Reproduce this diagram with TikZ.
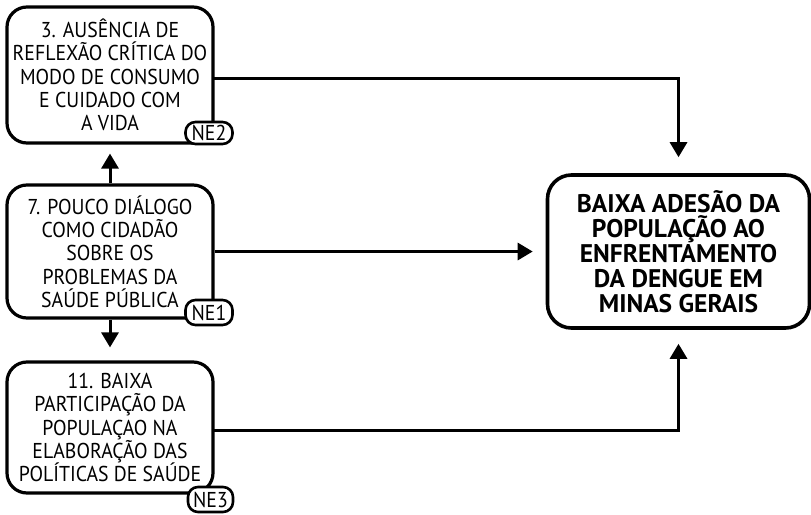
\documentclass[tikz,border=0pt]{standalone}
\usepackage{fontspec}
\setmainfont{PT Sans}
\newfontfamily\narrowfont[FakeStretch=0.92]{PT Sans}
\usetikzlibrary{arrows.meta}
\begin{document}
\begin{tikzpicture}[x=1pt,y=-1pt,
  causebox/.style={draw,line width=3.2pt,rounded corners=20pt,fill=white,minimum width=206pt,align=center,font=\narrowfont\fontsize{21.5}{23.3}\selectfont,inner sep=0pt},
  mainbox/.style={draw,line width=3.6pt,rounded corners=24pt,fill=white,minimum width=262pt,minimum height=153pt,align=center,font=\fontsize{25.5}{25}\selectfont\bfseries,inner sep=0pt},
  tagbox/.style={draw,line width=2.6pt,rounded corners=10pt,fill=white,font=\narrowfont\fontsize{21.5}{22}\selectfont,inner sep=0pt,minimum width=47pt},
  link/.style={line width=3pt,-{Triangle[width=17pt,length=15pt]}}]
\useasboundingbox (0,0) rectangle (811,514);
\node[causebox,minimum height=136pt] (b1) at (110,75) {3. AUSÊNCIA DE\\REFLEXÃO CRÍTICA DO\\MODO DE CONSUMO\\E CUIDADO COM\\A VIDA};
\node[causebox,minimum height=133pt] (b2) at (110,251.5) {7. POUCO DIÁLOGO\\COMO CIDADÃO\\SOBRE OS\\PROBLEMAS DA\\SAÚDE PÚBLICA};
\node[causebox,minimum height=131pt] (b3) at (110,427.5) {11. BAIXA\\PARTICIPAÇÃO DA\\POPULAÇAO NA\\ELABORAÇÃO DAS\\POLÍTICAS DE SAÚDE};
\node[mainbox] (m) at (678.5,251.5) {BAIXA ADESÃO DA\\POPULAÇÃO AO\\ENFRENTAMENTO\\DA DENGUE EM\\MINAS GERAIS};
\node[tagbox,minimum height=22pt] (t2) at (209,133) {NE2};
\node[tagbox,minimum height=25pt] (t1) at (209,312.5) {NE1};
\node[tagbox,minimum height=25pt,minimum width=45pt] (t3) at (210.5,499.5) {NE3};
\coordinate (c1) at (213,78);
\coordinate (c3) at (213,430);
\draw[link,shorten >=16pt] (c1) -| (m.north);
\draw[link,shorten >=13pt] (b2.east) -- (m.west);
\draw[link,shorten >=14pt] (c3) -| (m.south);
\draw[link,shorten >=9pt] (b2.north) -- (b1.south);
\draw[link,shorten >=13pt] (b2.south) -- (b3.north);
\end{tikzpicture}
\end{document}
